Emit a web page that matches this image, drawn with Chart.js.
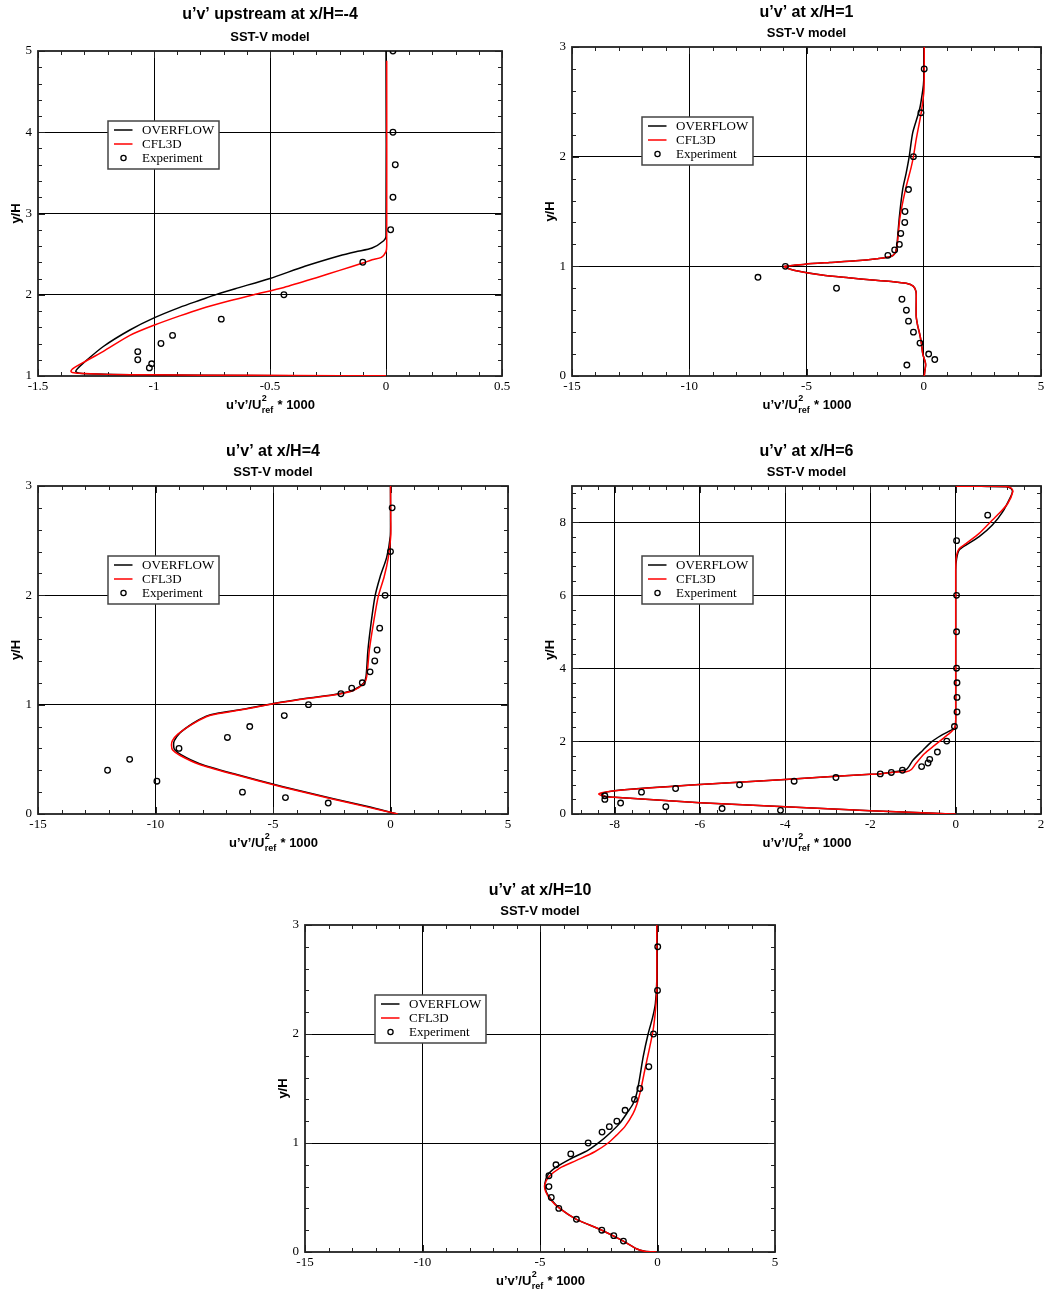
<!DOCTYPE html>
<html><head><meta charset="utf-8">
<script src="https://cdn.jsdelivr.net/npm/chart.js@4.4.1/dist/chart.umd.min.js"></script>
<style>
html,body{margin:0;padding:0;background:#fff;overflow:hidden;}
body{width:1047px;height:1296px;position:relative;}
canvas{position:absolute;}
</style></head><body>
<script>
// ---------------- DATA (x = u'v'/Uref^2*1000, y = y/H) ----------------
const P1_X_TICKS = [-1.5, -1, -0.5, 0, 0.5];
const P1_Y_TICKS = [1, 2, 3, 4, 5];
const P1_OVERFLOW = [[0,5],[0,2.72],[-0.01,2.665],[-0.06,2.575],[-0.13,2.53],[-0.2,2.48],[-0.35,2.35],[-0.5,2.2],[-0.65,2.075],[-0.73,2.005],[-0.8,1.935],[-0.889,1.845],[-1.0,1.715],[-1.104,1.566],[-1.22,1.36],[-1.306,1.156],[-1.33,1.09],[-1.337,1.055],[-1.32,1.035],[-1.25,1.025],[-1.1,1.015],[-0.8,1.008],[-0.4,1.004],[0,1.0]];
const P1_CFL3D = [[0.003,4.88],[0.003,2.6],[0,2.53],[-0.02,2.46],[-0.06,2.43],[-0.1,2.39],[-0.2,2.30],[-0.3,2.21],[-0.44,2.09],[-0.57,2.0],[-0.674,1.925],[-0.8,1.825],[-0.889,1.74],[-1.0,1.625],[-1.104,1.50],[-1.22,1.30],[-1.306,1.165],[-1.345,1.10],[-1.358,1.06],[-1.345,1.04],[-1.3,1.03],[-1.2,1.02],[-1.0,1.014],[-0.6,1.008],[-0.2,1.004],[0,1.002]];
const P1_EXP = [[0.03,5.0],[0.03,4.0],[0.04,3.6],[0.03,3.2],[0.02,2.8],[-0.10,2.4],[-0.44,2.0],[-0.71,1.7],[-0.92,1.5],[-0.97,1.4],[-1.07,1.3],[-1.07,1.2],[-1.01,1.15],[-1.02,1.1]];

const P2_X_TICKS = [-15, -10, -5, 0, 5];
const P2_Y_TICKS = [0, 1, 2, 3];
const P2_OVERFLOW = [[0.02,3.0],[0.0,2.7],[-0.04,2.61],[-0.18,2.43],[-0.47,2.22],[-0.62,2.0],[-0.75,1.85],[-0.90,1.70],[-1.04,1.45],[-1.12,1.25],[-1.15,1.18],[-1.22,1.12],[-1.40,1.09],[-2.0,1.07],[-2.9,1.05],[-4.0,1.035],[-5.06,1.02],[-5.6,1.008],[-5.92,1.0],[-5.8,0.982],[-5.49,0.962],[-4.34,0.92],[-3.2,0.895],[-2.19,0.875],[-1.3,0.86],[-0.75,0.845],[-0.45,0.82],[-0.33,0.77],[-0.32,0.7],[-0.32,0.54],[-0.25,0.45],[-0.18,0.39],[-0.1,0.3],[-0.04,0.2],[0.06,0.13],[0.08,0.1],[0.05,0.05],[0.02,0]];
const P2_CFL3D = [[0.02,3.0],[0.02,2.7],[0.0,2.58],[-0.11,2.40],[-0.32,2.16],[-0.44,2.0],[-0.54,1.9],[-0.78,1.70],[-1.01,1.45],[-1.12,1.22],[-1.15,1.17],[-1.22,1.12],[-1.40,1.09],[-2.0,1.07],[-2.9,1.05],[-4.0,1.035],[-5.06,1.02],[-5.6,1.008],[-5.95,1.0],[-5.82,0.982],[-5.49,0.962],[-4.34,0.92],[-3.2,0.895],[-2.19,0.875],[-1.3,0.86],[-0.75,0.845],[-0.45,0.82],[-0.33,0.77],[-0.32,0.7],[-0.32,0.54],[-0.25,0.45],[-0.18,0.39],[-0.1,0.3],[-0.04,0.2],[0.06,0.13],[0.08,0.1],[0.05,0.05],[0.02,0]];
const P2_EXP = [[0.02,2.8],[-0.12,2.4],[-0.44,2.0],[-0.65,1.7],[-0.80,1.5],[-0.81,1.4],[-0.98,1.3],[-1.04,1.2],[-1.24,1.15],[-1.53,1.1],[-5.9,1.0],[-7.07,0.9],[-3.72,0.8],[-0.93,0.7],[-0.74,0.6],[-0.65,0.5],[-0.44,0.4],[-0.16,0.3],[0.21,0.2],[0.47,0.15],[-0.72,0.1]];

const P3_X_TICKS = [-15, -10, -5, 0, 5];
const P3_Y_TICKS = [0, 1, 2, 3];
const P3_OVERFLOW = [[0,3.0],[0,2.7],[-0.01,2.54],[-0.16,2.35],[-0.44,2.17],[-0.66,1.99],[-0.83,1.74],[-0.96,1.50],[-1.04,1.26],[-1.15,1.195],[-1.58,1.134],[-2.43,1.09],[-3.86,1.05],[-4.99,1.01],[-6.2,0.96],[-7.41,0.92],[-7.84,0.895],[-8.4,0.83],[-8.97,0.74],[-9.2,0.67],[-9.23,0.63],[-9.19,0.59],[-8.9,0.54],[-8.12,0.46],[-6.70,0.37],[-4.57,0.25],[-2.43,0.14],[-1.01,0.07],[0.27,0.0]];
const P3_CFL3D = [[0,3.0],[0.01,2.7],[0.01,2.54],[-0.09,2.35],[-0.27,2.17],[-0.52,1.99],[-0.73,1.74],[-0.90,1.50],[-1.01,1.26],[-1.12,1.195],[-1.58,1.13],[-2.43,1.088],[-3.86,1.048],[-4.99,1.008],[-6.2,0.958],[-7.41,0.915],[-7.84,0.89],[-8.45,0.82],[-9.05,0.73],[-9.28,0.67],[-9.32,0.63],[-9.27,0.585],[-8.95,0.535],[-8.15,0.455],[-6.70,0.365],[-4.57,0.245],[-2.43,0.135],[-1.01,0.065],[0.31,0.0]];
const P3_EXP = [[0.07,2.8],[0.0,2.4],[-0.23,2.0],[-0.46,1.7],[-0.57,1.5],[-0.67,1.4],[-0.87,1.3],[-1.20,1.2],[-1.65,1.15],[-2.11,1.1],[-3.49,1.0],[-4.52,0.9],[-5.99,0.8],[-6.94,0.7],[-9.0,0.6],[-11.1,0.5],[-12.04,0.4],[-9.94,0.3],[-6.30,0.2],[-4.47,0.15],[-2.65,0.1]];

const P4_X_TICKS = [-8, -6, -4, -2, 0, 2];
const P4_Y_TICKS = [0, 2, 4, 6, 8];
const P4_OVERFLOW = [[0,8.99],[0.6,8.99],[1.18,8.98],[1.3,8.93],[1.33,8.84],[1.29,8.71],[1.10,8.29],[0.86,7.93],[0.55,7.61],[0.24,7.38],[0.08,7.24],[0.02,7.0],[0,6.7],[0,2.6],[-0.02,2.37],[-0.14,2.28],[-0.34,2.16],[-0.57,1.98],[-0.77,1.75],[-1.0,1.48],[-1.10,1.30],[-1.16,1.22],[-1.32,1.18],[-1.55,1.14],[-1.79,1.10],[-2.0,1.09],[-4.0,0.95],[-6.0,0.81],[-8.0,0.64],[-8.31,0.56],[-8.2,0.48],[-8.0,0.46],[-6.0,0.31],[-4.0,0.20],[-2.0,0.09],[-0.5,0.02],[0,0.0]];
const P4_CFL3D = [[0,8.99],[0.6,8.99],[1.18,8.985],[1.3,8.94],[1.34,8.85],[1.22,8.52],[1.02,8.25],[0.82,8.02],[0.55,7.70],[0.24,7.42],[0.08,7.28],[0.02,7.10],[0,6.78],[0,2.6],[-0.02,2.37],[-0.10,2.26],[-0.30,2.07],[-0.49,1.89],[-0.73,1.66],[-0.93,1.39],[-1.04,1.22],[-1.16,1.16],[-1.32,1.155],[-1.55,1.135],[-1.79,1.10],[-2.0,1.09],[-4.0,0.95],[-6.0,0.81],[-8.0,0.64],[-8.37,0.55],[-8.19,0.47],[-8.0,0.46],[-6.0,0.31],[-4.0,0.20],[-2.0,0.09],[-0.5,0.02],[0,0.0]];
const P4_EXP = [[0.75,8.2],[0.02,7.5],[0.02,6.0],[0.02,5.0],[0.02,4.0],[0.03,3.6],[0.03,3.2],[0.03,2.8],[-0.03,2.4],[-0.21,2.0],[-0.43,1.7],[-0.61,1.5],[-0.65,1.4],[-0.80,1.3],[-1.25,1.2],[-1.51,1.14],[-1.77,1.1],[-2.81,1.0],[-3.79,0.9],[-5.07,0.8],[-6.57,0.7],[-7.37,0.6],[-8.23,0.5],[-8.23,0.4],[-7.86,0.3],[-6.80,0.2],[-5.48,0.15],[-4.11,0.1]];

const P5_X_TICKS = [-15, -10, -5, 0, 5];
const P5_Y_TICKS = [0, 1, 2, 3];
const P5_OVERFLOW = [[-0.03,3.0],[-0.03,2.49],[-0.09,2.28],[-0.21,2.15],[-0.40,2.0],[-0.61,1.79],[-0.78,1.57],[-0.89,1.45],[-1.04,1.36],[-1.25,1.29],[-1.61,1.18],[-2.03,1.09],[-2.46,1.01],[-2.95,0.935],[-3.74,0.85],[-4.30,0.78],[-4.66,0.71],[-4.79,0.63],[-4.73,0.55],[-4.52,0.48],[-4.16,0.40],[-3.45,0.30],[-2.37,0.20],[-1.45,0.10],[-0.90,0.03],[-0.54,0.006],[-0.04,0.0]];
const P5_CFL3D = [[-0.03,3.0],[-0.03,2.40],[-0.09,2.21],[-0.19,2.03],[-0.36,1.85],[-0.54,1.67],[-0.72,1.48],[-0.87,1.36],[-1.04,1.27],[-1.39,1.15],[-1.75,1.07],[-2.10,1.0],[-2.67,0.92],[-3.45,0.84],[-4.16,0.77],[-4.62,0.69],[-4.80,0.615],[-4.76,0.555],[-4.55,0.48],[-4.16,0.40],[-3.45,0.30],[-2.37,0.20],[-1.45,0.10],[-0.90,0.03],[-0.54,0.006],[-0.04,0.0]];
const P5_EXP = [[0.01,2.8],[0.0,2.4],[-0.17,2.0],[-0.37,1.7],[-0.75,1.5],[-0.98,1.4],[-1.38,1.3],[-1.73,1.2],[-2.05,1.15],[-2.36,1.1],[-2.95,1.0],[-3.69,0.9],[-4.32,0.8],[-4.62,0.7],[-4.62,0.6],[-4.52,0.5],[-4.20,0.4],[-3.45,0.3],[-2.37,0.2],[-1.86,0.15],[-1.45,0.1]];

const SERIES_NAMES = ['OVERFLOW', 'CFL3D', 'Experiment'];
const SUBTITLE = 'SST-V model';

// ---------------- LAYOUT ----------------
const PANELS = [
  {title:'u\u2019v\u2019 upstream at x/H=-4', L:38, T:51, R:502, B:376, xMin:-1.5, xMax:0.5, xTicks:P1_X_TICKS, xMinor:0.1, yMin:1, yMax:5, yTicks:P1_Y_TICKS, yMinor:0.2, ov:P1_OVERFLOW, cf:P1_CFL3D, ex:P1_EXP, tDy:36, sDy:13.5},
  {title:'u\u2019v\u2019 at x/H=1', L:572, T:47, R:1041, B:376, xMin:-15, xMax:5, xTicks:P2_X_TICKS, xMinor:1, yMin:0, yMax:3, yTicks:P2_Y_TICKS, yMinor:0.2, ov:P2_OVERFLOW, cf:P2_CFL3D, ex:P2_EXP, tDy:34, sDy:14},
  {title:'u\u2019v\u2019 at x/H=4', L:38, T:486, R:508, B:814, xMin:-15, xMax:5, xTicks:P3_X_TICKS, xMinor:1, yMin:0, yMax:3, yTicks:P3_Y_TICKS, yMinor:0.2, ov:P3_OVERFLOW, cf:P3_CFL3D, ex:P3_EXP, tDy:34, sDy:14},
  {title:'u\u2019v\u2019 at x/H=6', L:572, T:486, R:1041, B:814, xMin:-9, xMax:2, xTicks:P4_X_TICKS, xMinor:0.4, yMin:0, yMax:9, yTicks:P4_Y_TICKS, yMinor:0.4, ov:P4_OVERFLOW, cf:P4_CFL3D, ex:P4_EXP, tDy:34, sDy:14},
  {title:'u\u2019v\u2019 at x/H=10', L:305, T:925, R:775, B:1252, xMin:-15, xMax:5, xTicks:P5_X_TICKS, xMinor:1, yMin:0, yMax:3, yTicks:P5_Y_TICKS, yMinor:0.2, ov:P5_OVERFLOW, cf:P5_CFL3D, ex:P5_EXP, tDy:34, sDy:14}
];

const PAD_L = 38, PAD_T = 50, PAD_R = 22, PAD_B = 45;
const SANS = '"Liberation Sans", Arial, Helvetica, sans-serif';
const SERIF = '"Liberation Serif", "Times New Roman", serif';
const toXY = a => a.map(p => ({x:p[0], y:p[1]}));

function minorValues(min, max, major0, step) {
  const out = [];
  const start = major0 - Math.ceil((major0 - min) / step - 1e-9) * step;
  for (let i = 0; ; i++) {
    const v = start + i * step;
    if (v > max + 1e-9) break;
    if (v >= min - 1e-9) out.push(v);
  }
  return out;
}

PANELS.forEach(p => {
  const cv = document.createElement('canvas');
  const cl = p.L - PAD_L, ct = p.T - PAD_T;
  const w = p.R - p.L + PAD_L + PAD_R, h = p.B - p.T + PAD_T + PAD_B;
  cv.width = w; cv.height = h;
  cv.style.left = cl + 'px'; cv.style.top = ct + 'px';
  cv.style.width = w + 'px'; cv.style.height = h + 'px';
  document.body.appendChild(cv);

  const isEdge = (v, a, b) => Math.abs(v - a) < 1e-9 || Math.abs(v - b) < 1e-9;

  const decor = {
    id: 'decor',
    beforeDatasetsDraw(chart) {
      const c = chart.ctx, ca = chart.chartArea;
      const xs = chart.scales.x, ys = chart.scales.y;
      c.save();
      c.strokeStyle = '#222'; c.lineWidth = 1;
      const xMin = minorValues(p.xMin, p.xMax, p.xTicks[0], p.xMinor);
      xMin.forEach(v => {
        const px = Math.round(xs.getPixelForValue(v)) + 0.5;
        const len = p.xTicks.some(t => Math.abs(t - v) < 1e-9) ? 7 : 4;
        c.beginPath();
        c.moveTo(px, ca.bottom); c.lineTo(px, ca.bottom - len);
        c.moveTo(px, ca.top); c.lineTo(px, ca.top + len);
        c.stroke();
      });
      const yMin = minorValues(p.yMin, p.yMax, p.yTicks[0], p.yMinor);
      yMin.forEach(v => {
        const py = Math.round(ys.getPixelForValue(v)) + 0.5;
        const len = p.yTicks.some(t => Math.abs(t - v) < 1e-9) ? 7 : 4;
        c.beginPath();
        c.moveTo(ca.left, py); c.lineTo(ca.left + len, py);
        c.moveTo(ca.right, py); c.lineTo(ca.right - len, py);
        c.stroke();
      });
      c.strokeStyle = '#222'; c.lineWidth = 1.8;
      c.strokeRect(ca.left, ca.top, ca.right - ca.left, ca.bottom - ca.top);
      c.restore();
    },
    afterDraw(chart) {
      const c = chart.ctx, ca = chart.chartArea;
      const cx = (ca.left + ca.right) / 2;
      c.save();
      c.fillStyle = '#000';
      c.textAlign = 'center'; c.textBaseline = 'middle';
      c.font = 'bold 16px ' + SANS;
      c.fillText(p.title, cx, ca.top - p.tDy);
      c.font = 'bold 13px ' + SANS;
      c.fillText(SUBTITLE, cx, ca.top - p.sDy);

      const yT = ca.bottom + 29;
      const s1 = 'u\u2019v\u2019/U', s4 = ' * 1000';
      c.font = 'bold 13px ' + SANS;
      const w1 = c.measureText(s1).width, w4 = c.measureText(s4).width;
      c.font = 'bold 9px ' + SANS;
      const w2 = c.measureText('2').width, w3 = c.measureText('ref').width;
      const total = w1 + Math.max(w2, w3) + w4;
      let x0 = cx - total / 2;
      c.textAlign = 'left';
      c.font = 'bold 13px ' + SANS;
      c.fillText(s1, x0, yT);
      c.font = 'bold 9px ' + SANS;
      c.fillText('2', x0 + w1 + 0.5, yT - 6);
      c.fillText('ref', x0 + w1 + 0.5, yT + 6);
      c.font = 'bold 13px ' + SANS;
      c.fillText(s4, x0 + w1 + Math.max(w2, w3) + 1, yT);

      c.save();
      c.translate(ca.left - 21.5, (ca.top + ca.bottom) / 2);
      c.rotate(-Math.PI / 2);
      c.textAlign = 'center';
      c.font = 'bold 13px ' + SANS;
      c.fillText('y/H', 0, 0);
      c.restore();

      const lx = ca.left + 70, ly = ca.top + 70, lw = 111, lh = 48;
      c.fillStyle = '#fff';
      c.fillRect(lx, ly, lw, lh);
      c.strokeStyle = '#444'; c.lineWidth = 1.5;
      c.strokeRect(lx, ly, lw, lh);
      const rows = [ly + 9, ly + 23, ly + 37];
      const ds = chart.data.datasets;
      c.font = '13px ' + SERIF;
      c.textAlign = 'left'; c.textBaseline = 'middle';
      c.strokeStyle = ds[2].borderColor; c.lineWidth = 1.5;
      c.beginPath(); c.moveTo(lx + 6, rows[0]); c.lineTo(lx + 24.5, rows[0]); c.stroke();
      c.strokeStyle = ds[1].borderColor;
      c.beginPath(); c.moveTo(lx + 6, rows[1]); c.lineTo(lx + 24.5, rows[1]); c.stroke();
      c.strokeStyle = ds[0].borderColor; c.lineWidth = 1.3;
      c.beginPath(); c.arc(lx + 15.5, rows[2], 2.6, 0, Math.PI * 2); c.stroke();
      c.fillStyle = '#000';
      c.fillText(SERIES_NAMES[0], lx + 34, rows[0] + 0.5);
      c.fillText(SERIES_NAMES[1], lx + 34, rows[1] + 0.5);
      c.fillText(SERIES_NAMES[2], lx + 34, rows[2] + 0.5);
      c.restore();
    }
  };

  const gridColor = (axisMin, axisMax) => ctx =>
    (ctx.tick && isEdge(ctx.tick.value, axisMin, axisMax)) ? 'rgba(0,0,0,0)' : '#000';

  new Chart(cv, {
    type: 'scatter',
    data: {
      datasets: [
        {label: SERIES_NAMES[2], data: toXY(p.ex), showLine: false, pointStyle: 'circle',
         pointRadius: 2.8, pointBorderWidth: 1.3, borderColor: '#000', backgroundColor: 'rgba(0,0,0,0)'},
        {label: SERIES_NAMES[1], data: toXY(p.cf), showLine: true, pointRadius: 0, borderColor: '#ff0000',
         borderWidth: 1.5, tension: 0.25, fill: false},
        {label: SERIES_NAMES[0], data: toXY(p.ov), showLine: true, pointRadius: 0, borderColor: '#000000',
         borderWidth: 1.5, tension: 0.25, fill: false}
      ]
    },
    options: {
      responsive: false, animation: false, events: [],
      layout: {padding: {left: 0, top: PAD_T, right: PAD_R, bottom: 0}},
      plugins: {legend: {display: false}, tooltip: {enabled: false}, title: {display: false}},
      scales: {
        x: {
          type: 'linear', position: 'bottom', min: p.xMin, max: p.xMax,
          afterFit: s => { s.height = PAD_B; },
          afterBuildTicks: s => { s.ticks = p.xTicks.map(v => ({value: v})); },
          ticks: {padding: 3, color: '#000', autoSkip: false, maxRotation: 0,
                  font: {family: SERIF, size: 13}, callback: v => String(v)},
          grid: {color: gridColor(p.xMin, p.xMax), lineWidth: 1, drawTicks: false},
          border: {display: false}
        },
        y: {
          type: 'linear', position: 'left', min: p.yMin, max: p.yMax,
          afterFit: s => { s.width = PAD_L; },
          afterBuildTicks: s => { s.ticks = p.yTicks.map(v => ({value: v})); },
          ticks: {padding: 6, color: '#000', autoSkip: false,
                  font: {family: SERIF, size: 13}, callback: v => String(v)},
          grid: {color: gridColor(p.yMin, p.yMax), lineWidth: 1, drawTicks: false},
          border: {display: false}
        }
      }
    },
    plugins: [decor]
  });
});
</script>
</body></html>
